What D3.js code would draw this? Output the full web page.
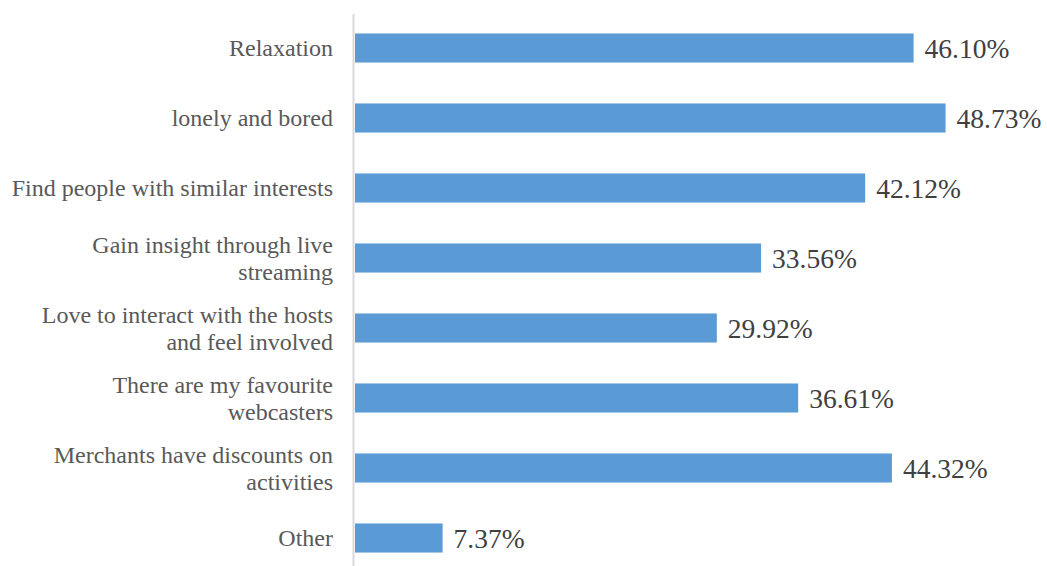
<!DOCTYPE html>
<html>
<head>
<meta charset="utf-8">
<script src="https://cdn.jsdelivr.net/npm/d3@7"></script>
<style>
  html, body { margin: 0; padding: 0; background: #ffffff; }
  svg { display: block; }
</style>
</head>
<body>
<svg id="chart" width="1047" height="566"></svg>
<script>
// Reasons for watching live streams (share of respondents, %)
const categories = [
  ["Relaxation"],
  ["lonely and bored"],
  ["Find people with similar interests"],
  ["Gain insight through live", "streaming"],
  ["Love to interact with the hosts", "and feel involved"],
  ["There are my favourite", "webcasters"],
  ["Merchants have discounts on", "activities"],
  ["Other"]
];
const values = [46.10, 48.73, 42.12, 33.56, 29.92, 36.61, 44.32, 7.37];
const valueLabels = ["46.10%", "48.73%", "42.12%", "33.56%", "29.92%", "36.61%", "44.32%", "7.37%"];

const svg = d3.select("#chart");
const W = 1047, H = 566;
const left = 353;
const font = "'Liberation Serif', 'Times New Roman', serif";

const keys = categories.map((c, i) => i);

const x = d3.scaleLinear().domain([0, 1]).range([left, left + 1216]);
const y = d3.scaleBand().domain(keys).range([13, 573]).paddingInner(0.585).paddingOuter(0.2925);

// vertical category axis line
svg.append("line")
  .attr("x1", left + 0.5).attr("x2", left + 0.5)
  .attr("y1", 14).attr("y2", H)
  .attr("stroke", "#d9d9d9").attr("stroke-width", 2);

// bars
svg.selectAll("rect.bar")
  .data(values)
  .join("rect")
  .attr("class", "bar")
  .attr("x", x(0) + 2)
  .attr("y", (d, i) => y(i))
  .attr("width", d => x(d / 100) - x(0) - 2)
  .attr("height", y.bandwidth())
  .attr("fill", "#5b9bd5");

// value labels
svg.selectAll("text.val")
  .data(values)
  .join("text")
  .attr("class", "val")
  .attr("x", d => x(d / 100) + 11)
  .attr("y", (d, i) => y(i) + y.bandwidth() / 2)
  .attr("dy", "0.35em")
  .attr("font-family", font)
  .attr("font-size", 27.5)
  .attr("fill", "#404040")
  .text((d, i) => valueLabels[i]);

// category labels
const lineH = 27;
const labels = svg.selectAll("text.cat")
  .data(categories)
  .join("text")
  .attr("class", "cat")
  .attr("text-anchor", "end")
  .attr("font-family", font)
  .attr("font-size", 24)
  .attr("fill", "#595959");

labels.each(function(lines, i) {
  const cy = y(i) + y.bandwidth() / 2;
  const start = cy - (lines.length - 1) * lineH / 2;
  d3.select(this).selectAll("tspan")
    .data(lines)
    .join("tspan")
    .attr("x", 333)
    .attr("y", (d, j) => start + j * lineH)
    .attr("dy", "0.35em")
    .text(d => d);
});
</script>
</body>
</html>
